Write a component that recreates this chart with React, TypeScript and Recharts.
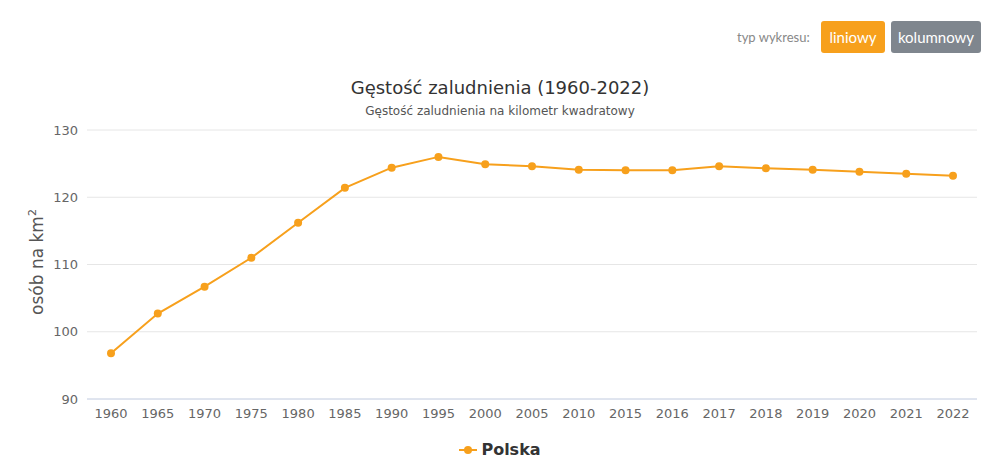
import React from 'react';
import { LineChart, Line, XAxis, YAxis, CartesianGrid } from 'recharts';

const years = ['1960','1965','1970','1975','1980','1985','1990','1995','2000','2005','2010','2015','2016','2017','2018','2019','2020','2021','2022'];
const polska = [96.8,102.7,106.7,111.0,116.2,121.4,124.4,126.0,124.9,124.6,124.1,124.0,124.0,124.6,124.3,124.1,123.8,123.5,123.2];
const yTicks = [90,100,110,120,130];

const data = years.map((y, i) => ({ year: y, Polska: polska[i] }));

const ORANGE = '#f7a01c';
const FONT = '"DejaVu Sans", Verdana, sans-serif';

const YLabel = () => (
  <text x={43} y={262} transform="rotate(-90, 43, 262)" textAnchor="middle" fill="#555" fontSize={17} fontFamily={FONT}>
    osób na km<tspan dy={-7} fontSize={11}>2</tspan>
  </text>
);

export default function App() {
  return (
    <div style={{ position: 'relative', width: 1000, height: 466, margin: -8, background: '#fff', overflow: 'hidden' }}>
      <div style={{ position: 'absolute', left: 737, top: 29, fontFamily: 'Lato, sans-serif', fontSize: 13, color: '#888' }}>typ wykresu:</div>
      <div style={{ position: 'absolute', left: 821, top: 21, width: 64, height: 32, borderRadius: 3, background: ORANGE, color: '#fff', fontFamily: 'Lato, sans-serif', fontSize: 15, display: 'flex', alignItems: 'center', justifyContent: 'center' }}>liniowy</div>
      <div style={{ position: 'absolute', left: 891, top: 21, width: 90, height: 32, borderRadius: 3, background: '#7f868e', color: '#fff', fontFamily: 'Lato, sans-serif', fontSize: 15, display: 'flex', alignItems: 'center', justifyContent: 'center' }}>kolumnowy</div>
      <div style={{ position: 'absolute', left: 0, width: 1000, top: 77, textAlign: 'center', fontFamily: FONT, fontSize: 18, color: '#333' }}>Gęstość zaludnienia (1960-2022)</div>
      <div style={{ position: 'absolute', left: 0, width: 1000, top: 104, textAlign: 'center', fontFamily: FONT, fontSize: 12, color: '#555' }}>Gęstość zaludnienia na kilometr kwadratowy</div>
      <div style={{ position: 'absolute', left: 0, width: 1000, top: 440, display: 'flex', justifyContent: 'center', alignItems: 'center', fontFamily: FONT, fontSize: 16, fontWeight: 'bold', color: '#333' }}>
        <svg width={18} height={10} style={{ marginRight: 4 }}>
          <line x1={0} y1={5} x2={18} y2={5} stroke={ORANGE} strokeWidth={2} />
          <circle cx={9} cy={5} r={4} fill={ORANGE} />
        </svg>
        Polska
      </div>
      <div style={{ position: 'absolute', left: 0, top: 0 }}>
        <LineChart width={1000} height={466} data={data} margin={{ top: 130, right: 23, bottom: 37, left: 0 }}>
          <CartesianGrid vertical={false} stroke="#e6e6e6" />
          <XAxis dataKey="year" height={30} padding={{ left: 24, right: 24 }} axisLine={{ stroke: '#ccd6eb' }} tickLine={false} tickSize={0} tickMargin={10} tick={{ fill: '#666', fontSize: 13, fontFamily: FONT }} interval={0} />
          <YAxis width={87} domain={[90, 130]} ticks={yTicks} axisLine={false} tickLine={false} tickSize={0} tickMargin={9} tick={{ fill: '#666', fontSize: 13, fontFamily: FONT }} label={<YLabel />} />
          <Line dataKey="Polska" stroke={ORANGE} strokeWidth={2} dot={{ r: 4, fill: ORANGE, stroke: ORANGE, strokeWidth: 0 }} isAnimationActive={false} />
        </LineChart>
      </div>
    </div>
  );
}
